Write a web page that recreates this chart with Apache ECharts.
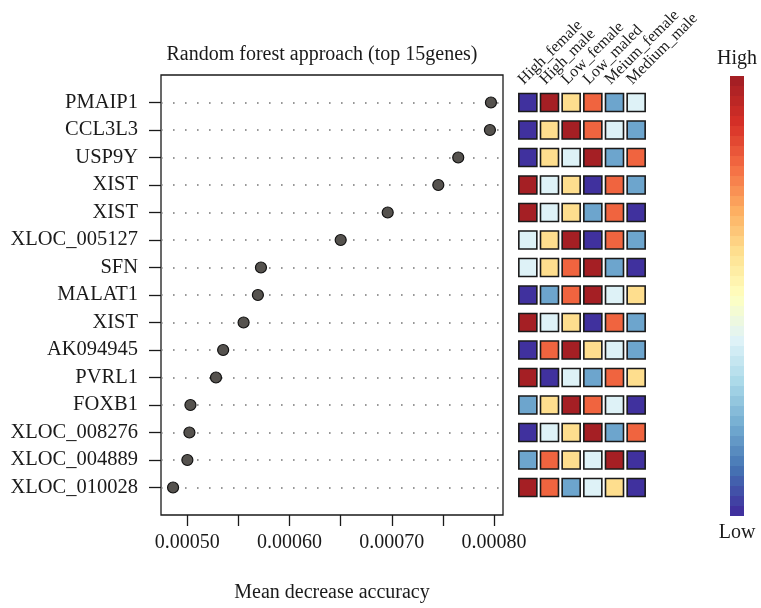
<!DOCTYPE html>
<html>
<head>
<meta charset="utf-8">
<script src="https://cdn.jsdelivr.net/npm/echarts@6/dist/echarts.min.js"></script>
<style>html,body{margin:0;padding:0;background:#fff}#c{width:761px;height:608px}</style>
</head>
<body>
<div id="c"></div>
<script>
// ---- data ----
const genes = ['PMAIP1','CCL3L3','USP9Y','XIST','XIST','XLOC_005127','SFN','MALAT1','XIST','AK094945','PVRL1','FOXB1','XLOC_008276','XLOC_004889','XLOC_010028'];
const importance = [0.000797,0.000796,0.000765,0.0007455,0.000696,0.000650,0.000572,0.000569,0.000555,0.000535,0.000528,0.000503,0.000502,0.000500,0.000486];
const groups = ['High_female','High_male','Low_female','Low_maled','Meium_female','Medium_male'];
// relative level per gene (1 = lowest, 6 = highest), columns in order of groups
const levels = [
  [1,6,4,5,2,3],
  [1,4,6,5,3,2],
  [1,4,3,6,2,5],
  [6,3,4,1,5,2],
  [6,3,4,2,5,1],
  [3,4,6,1,5,2],
  [3,4,5,6,2,1],
  [1,2,5,6,3,4],
  [6,3,4,1,5,2],
  [1,5,6,4,3,2],
  [6,1,3,2,5,4],
  [2,4,6,5,3,1],
  [1,3,4,6,2,5],
  [2,5,4,3,6,1],
  [6,5,2,3,4,1]
];
const xTicks = [0.00050,0.00055,0.00060,0.00065,0.00070,0.00075,0.00080];
const xTickLabels = [0.00050,0.00060,0.00070,0.00080];
const palette = ['#40319E','#4575B4','#74ADD1','#ABD9E9','#E0F3F8','#FFFFBF','#FEE090','#FDAE61','#F46D43','#D73027','#A51F24'];

// ---- build ----
const n = genes.length;
const rowPos = genes.map((g,i)=> n - i);
const dotData = importance.map((v,i)=>[v, rowPos[i]]);
const cellData = [];
levels.forEach((row,i)=>row.forEach((lv,j)=>cellData.push([j, rowPos[i], lv])));
const FONT = 'Liberation Serif';
const INK = '#1a1a1a';

const chart = echarts.init(document.getElementById('c'), null, {renderer:'canvas'});
chart.setOption({
  animation:false,
  backgroundColor:'#fff',
  title:{
    text:'Random forest approach (top 15genes)',
    left:317, top:40, textAlign:'center',
    textStyle:{fontFamily:FONT,fontSize:20,fontWeight:'normal',color:INK}
  },
  grid:[
    {left:161, top:75, width:342, height:440, show:true, borderColor:INK, borderWidth:1.3},
    {left:517, top:75, width:130, height:440, show:false},
    {left:510, top:75, width:130, height:440, show:false}
  ],
  xAxis:[
    {gridIndex:0, type:'value', min:0.0004742, max:0.0008088,
     axisLine:{show:false},
     axisTick:{show:true, inside:false, length:11, customValues:xTicks, lineStyle:{color:INK,width:1.3}},
     axisLabel:{customValues:xTickLabels, margin:18, formatter:v=>v.toFixed(5), fontFamily:FONT, fontSize:20, color:INK},
     splitLine:{show:false},
     name:'Mean decrease accuracy', nameLocation:'middle', nameGap:68,
     nameTextStyle:{fontFamily:FONT,fontSize:20,color:INK}
    },
    {gridIndex:1, type:'category', data:groups, show:false},
    {gridIndex:2, type:'category', data:groups, position:'top',
     axisLine:{show:false}, axisTick:{show:false},
     axisLabel:{rotate:45, margin:-7, interval:0, fontFamily:FONT, fontSize:16, color:INK},
     splitLine:{show:false}
    }
  ],
  yAxis:[
    {gridIndex:0, type:'value', min:0, max:n+1,
     axisLine:{show:false},
     axisTick:{show:true, length:12, customValues:rowPos, lineStyle:{color:INK,width:1.3}},
     axisLabel:{customValues:rowPos, margin:23, formatter:v=>genes[n - v], fontFamily:FONT, fontSize:20.5, color:INK},
     splitLine:{show:false}
    },
    {gridIndex:1, type:'value', min:0, max:n+1, show:false},
    {gridIndex:2, type:'value', min:0, max:n+1, show:false}
  ],
  visualMap:{
    type:'piecewise', seriesIndex:2, dimension:2,
    min:1, max:6, splitNumber:44, precision:4,
    inRange:{color:palette},
    orient:'vertical', itemAlign:'left', left:702, top:27,
    itemWidth:14, itemHeight:10, itemGap:0, itemSymbol:'rect',
    showLabel:false, text:['High','Low'],
    textStyle:{fontFamily:FONT,fontSize:20,lineHeight:34,color:INK},
    selectedMode:false, hoverLink:false
  },
  series:[
    {type:'scatter', xAxisIndex:0, yAxisIndex:0, data:[], z:1, silent:true,
     markLine:{silent:true, symbol:'none', label:{show:false}, animation:false,
       lineStyle:{type:[1.6,10.4], color:'#777', width:1.6},
       emphasis:{disabled:true},
       data:rowPos.map(r=>({yAxis:r}))}
    },
    {type:'scatter', xAxisIndex:0, yAxisIndex:0, data:dotData, z:10,
     symbol:'circle', symbolSize:11,
     itemStyle:{color:'#55524e', borderColor:'#111', borderWidth:1.2, opacity:1}
    },
    {type:'scatter', xAxisIndex:1, yAxisIndex:1, data:cellData,
     symbol:'rect', symbolSize:18,
     itemStyle:{borderColor:INK, borderWidth:1.6, opacity:1}
    }
  ]
});
</script>
</body>
</html>
